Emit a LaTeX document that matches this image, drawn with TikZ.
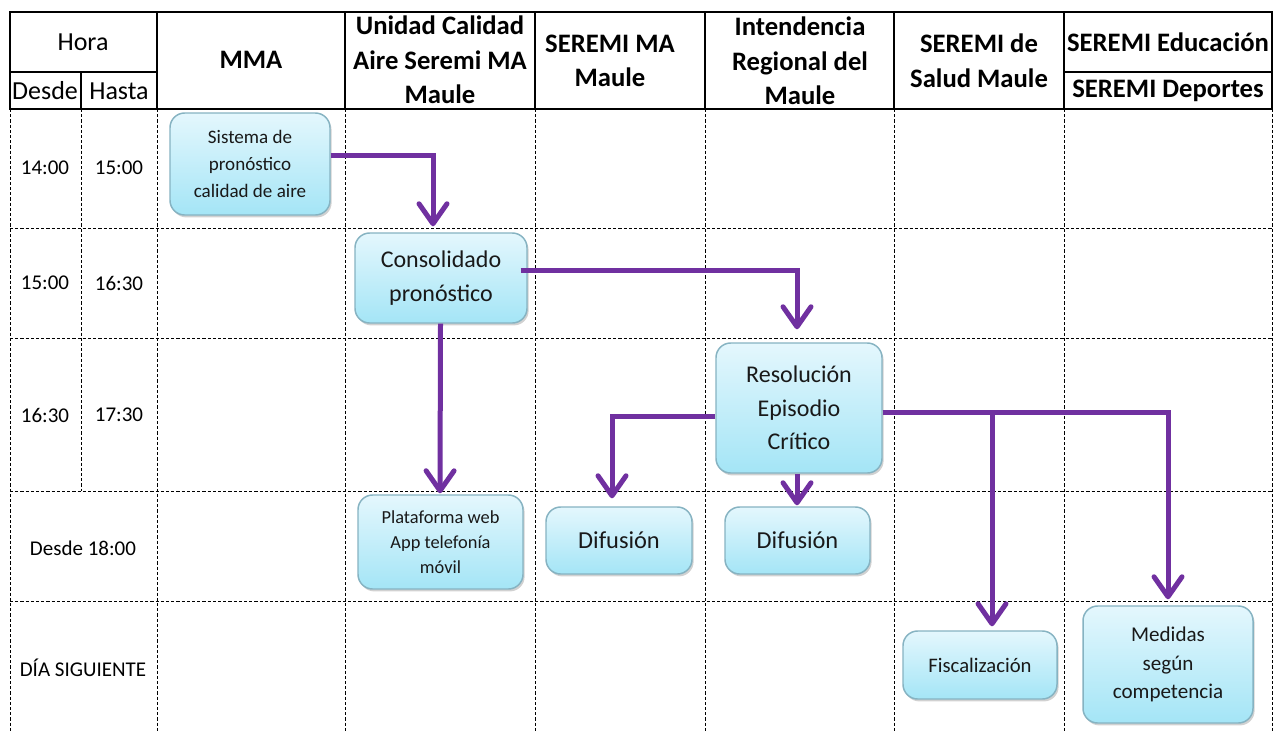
\documentclass[tikz,border=0pt]{standalone}
\usepackage{fontspec}
\setmainfont{Carlito}
\usetikzlibrary{arrows.meta,calc,shadows}
\definecolor{arrowpurple}{HTML}{7030A0}
\definecolor{boxtop}{HTML}{E4F7FD}
\definecolor{boxbot}{HTML}{A4E5F6}
\definecolor{boxline}{HTML}{86B3C2}
\begin{document}
\begin{tikzpicture}[x=0.75pt,y=-0.75pt,
 solidln/.style={line width=2pt, black},
 dashln/.style={line width=0.6pt, black, dash pattern=on 2.4pt off 1.5pt},
 hdr/.style={font=\fontsize{20}{26}\selectfont\bfseries, align=center, inner sep=0},
 hdrreg/.style={font=\fontsize{19.5}{24}\selectfont, inner sep=0},
 rowlab/.style={font=\fontsize{15.75}{19}\selectfont, inner sep=0},
 box/.style={draw=boxline, line width=1.1pt, rounded corners=11pt, top color=boxtop, bottom color=boxbot, align=center, inner sep=0, text=black!90,
   drop shadow={shadow xshift=1.2pt, shadow yshift=-1.8pt, opacity=0.18, fill=black}},
 bsize/.style 2 args={minimum width=#1*0.75pt, minimum height=#2*0.75pt},
 arr/.style={draw=arrowpurple, line width=3.75pt, -{Straight Barb[length=15pt,width=21pt,round]}}
]
\fill[white] (0,0) rectangle (1273,732);
\useasboundingbox (0,0) rectangle (1273,732);

% body dashed grid
\foreach \xx in {10,157,345,535,705,894,1064,1272}
  \draw[dashln] (\xx,109) -- (\xx,732);
\draw[dashln] (81,109) -- (81,491);
\foreach \yy in {228,338,491,601}
  \draw[dashln] (10,\yy) -- (1272,\yy);

% header solid grid
\draw[solidln] (10,12) rectangle (1272,109);
\foreach \xx in {157,345,535,705,894,1064}
  \draw[solidln] (\xx,12) -- (\xx,109);
\draw[solidln] (10,72) -- (157,72);
\draw[solidln] (81,72) -- (81,109);
\draw[solidln] (1064,72) -- (1272,72);

% header texts
\node[hdrreg] (hora) at (83,42) {Hora};
\node[hdrreg] (desde) at (45,91) {Desde};
\node[hdrreg] (hasta) at (119,91) {Hasta};
\node[hdr] (mma) at (251,60) {MMA};
\node[hdr] (uca) at (440,60) {Unidad Calidad\\Aire Seremi MA\\Maule};
\node[hdr] (sma) at (610,61) {SEREMI MA\\Maule};
\node[hdr] (intd) at (800,61) {Intendencia\\Regional del\\Maule};
\node[hdr] (sal) at (979,61) {SEREMI de\\Salud Maule};
\node[hdr] (edu) at (1168,42) {SEREMI Educación};
\node[hdr] (dep) at (1168,91) {SEREMI Deportes};

% row labels
\node[rowlab] (r1a) at (45,168) {14:00};
\node[rowlab] (r1b) at (119,168) {15:00};
\node[rowlab] (r2a) at (45,283) {15:00};
\node[rowlab] (r2b) at (119,283) {16:30};
\node[rowlab] (r3a) at (45,415) {16:30};
\node[rowlab] (r3b) at (119,415) {17:30};
\node[rowlab] (r4) at (83,548) {Desde 18:00};
\node[rowlab] (r5) at (83,668) {DÍA SIGUIENTE};

% process boxes
\node[box, bsize={160}{102}, font=\fontsize{14.3}{20}\selectfont] (sis) at (250,164) {Sistema de\\pronóstico\\calidad de aire};
\node[box, bsize={172}{90}, font=\fontsize{18}{25.5}\selectfont] (cons) at (441,278) {Consolidado\\pronóstico};
\node[box, bsize={166}{130}, font=\fontsize{18}{25}\selectfont] (res) at (799,408) {Resolución\\Episodio\\Crítico};
\node[box, bsize={165}{94}, font=\fontsize{13.8}{18.75}\selectfont] (plat) at (440.5,542) {Plataforma web\\App telefonía\\móvil};
\node[box, bsize={146}{67}, font=\fontsize{18.3}{20}\selectfont] (dif1) at (619,540.5) {Difusión};
\node[box, bsize={145}{67}, font=\fontsize{18.3}{20}\selectfont] (dif2) at (797.5,540.5) {Difusión};
\node[box, bsize={154}{68}, font=\fontsize{15.5}{18}\selectfont] (fis) at (980,665) {Fiscalización};
\node[box, bsize={170}{117}, font=\fontsize{15.8}{21.4}\selectfont] (med) at (1168,664.5) {Medidas\\según\\competencia};

% connectors
\draw[arr] ($(sis.east)+(0,-9)$) -| ($(cons.north)+(-8,-6)$);
\draw[arr] ($(cons.east)+(-7,-8)$) -| ($(res.north)+(-2,-13)$);
\draw[arr] ($(cons.south)+(-0.5,0)$) -- ($(plat.north)+(-0.5,-1)$);
\draw[arr] ($(res.west)+(0,8)$) -| ($(dif1.north)+(-7,-8)$);
\draw[arr] ($(res.south)+(-2,0)$) -- ($(dif2.north)+(-0.5,-1)$);
\draw[arr] ($(res.east)+(0,4)$) -| ($(med.north)+(0,-6)$);
\draw[arr] ($(res.east)+(0,4)$) -| ($(fis.north)+(12,-4)$);
\end{tikzpicture}
\end{document}
